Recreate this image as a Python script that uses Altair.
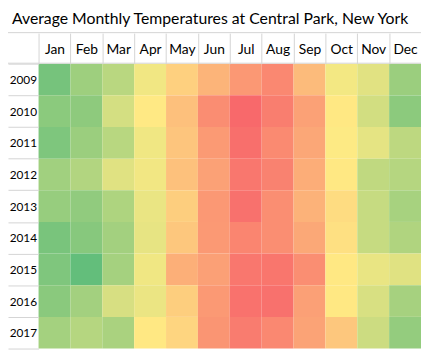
import altair as alt
import pandas as pd
import numpy as np

months = ["Jan", "Feb", "Mar", "Apr", "May", "Jun", "Jul", "Aug", "Sep", "Oct", "Nov", "Dec"]
years = ["2009", "2010", "2011", "2012", "2013", "2014", "2015", "2016", "2017"]
title_text = "Average Monthly Temperatures at Central Park, New York"

t2009 = [27.9, 36.7, 42.4, 54.5, 62.5, 67.5, 72.7, 75.7, 66.3, 55.0, 51.1, 35.9]
t2010 = [32.5, 33.1, 48.2, 57.9, 65.3, 74.7, 81.3, 77.4, 71.1, 58.1, 47.9, 32.8]
t2011 = [29.7, 36.0, 42.3, 54.3, 64.5, 72.3, 80.2, 75.3, 70.0, 57.1, 51.9, 43.3]
t2012 = [37.3, 40.9, 50.9, 54.8, 65.1, 71.0, 78.8, 76.7, 68.8, 58.0, 43.9, 41.5]
t2013 = [35.1, 33.9, 40.1, 53.0, 62.8, 72.7, 79.8, 74.6, 67.9, 60.2, 45.3, 38.5]
t2014 = [28.6, 31.6, 37.7, 52.3, 64.0, 72.5, 76.1, 74.5, 69.7, 59.6, 45.3, 40.5]
t2015 = [29.9, 23.9, 38.1, 54.3, 68.5, 71.2, 78.8, 79.0, 74.5, 58.0, 52.8, 50.8]
t2016 = [32.3, 37.7, 48.9, 53.3, 62.8, 72.5, 79.6, 79.8, 71.3, 58.0, 49.0, 38.3]
t2017 = [38.0, 41.6, 39.2, 58.1, 61.6, 73.3, 77.9, 75.6, 70.7, 64.1, 46.6, 34.4]

rows_vals = [t2009, t2010, t2011, t2012, t2013, t2014, t2015, t2016, t2017]
records = []
for y, vals in zip(years, rows_vals):
    for m, v in zip(months, vals):
        records.append({"year": y, "month": m, "temp": v})
df = pd.DataFrame(records)

all_vals = np.array(rows_vals).ravel()
dmin, dmed, dmax = float(all_vals.min()), float(np.median(all_vals)), float(all_vals.max())

W = 388
H = 289
LEFT = 31
TOP = 54
GRID = "#d4d4d4"
FONT = "Lato"

cells = alt.Chart(df).mark_rect().encode(
    x=alt.X("month:N", sort=months, scale=alt.Scale(paddingInner=0, paddingOuter=0),
            axis=alt.Axis(orient="top", title=None, labelAngle=0, labelFont=FONT,
                          labelFontSize=14, labelColor="black", tickSize=31,
                          tickColor=GRID, tickBand="extent", domain=False,
                          labelPadding=-21, labelBaseline="alphabetic")),
    y=alt.Y("year:N", sort=years, scale=alt.Scale(paddingInner=0, paddingOuter=0),
            axis=alt.Axis(orient="left", title=None, labelFont=FONT, labelFontSize=12,
                          labelColor="black", tickSize=LEFT, tickColor=GRID,
                          tickBand="extent", domain=False, labelPadding=-(LEFT - 2),
                          labelAlign="right", labelBaseline="middle")),
    color=alt.Color("temp:Q", legend=None,
                    scale=alt.Scale(domain=[dmin, dmed, dmax],
                                    range=["#63BE7B", "#FFEB84", "#F8696B"],
                                    interpolate="rgb")),
)

right_ticks = alt.Chart(df).mark_rect(opacity=0).encode(
    y=alt.Y("year:N", sort=years,
            axis=alt.Axis(orient="right", title=None, labels=False, tickSize=3,
                          tickColor=GRID, tickBand="extent", domain=False)),
)

line_data = alt.Data(values=[{"k": 0}])
top_line = alt.Chart(line_data).mark_rule(color=GRID, strokeWidth=1).encode(
    x=alt.value(-LEFT - 5), x2=alt.value(W + 10), y=alt.value(-31.5))
head_line = alt.Chart(line_data).mark_rule(color=GRID, strokeWidth=1).encode(
    x=alt.value(-LEFT - 5), x2=alt.value(W + 10), y=alt.value(-0.5))
title = alt.Chart(line_data).mark_text(
    text=title_text, font=FONT, fontSize=16, color="black",
    align="center", baseline="alphabetic",
).encode(x=alt.value(W / 2 - 20), y=alt.value(-40))

chart = alt.layer(cells, right_ticks, top_line, head_line, title).resolve_axis(
    y="independent"
).properties(
    width=W, height=H,
    padding={"left": LEFT, "top": TOP, "right": 0, "bottom": 0},
    autosize=alt.AutoSizeParams(type="none"),
    background="white",
).configure_view(stroke=None)

chart.save("out.html", embed_options={"renderer": "svg", "actions": False})
